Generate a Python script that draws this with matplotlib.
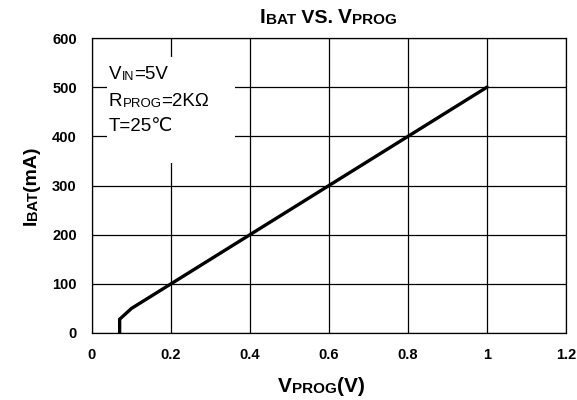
#!/usr/bin/python3
import matplotlib
matplotlib.use('Agg')
import matplotlib.pyplot as plt
from matplotlib.patches import Rectangle

# charge current vs PROG pin voltage
vprog = [0.07, 0.07, 0.1, 0.2, 0.4, 0.6, 0.8, 1.0]
ibat = [0, 28, 50, 100, 200, 300, 400, 500]

x_ticks = [0, 0.2, 0.4, 0.6, 0.8, 1, 1.2]
x_tick_labels = ['0', '0.2', '0.4', '0.6', '0.8', '1', '1.2']
y_ticks = [0, 100, 200, 300, 400, 500, 600]

FONT = ['Liberation Sans', 'DejaVu Sans']
W, H = 577, 400


def small_caps(fig, x, y, parts, rotation=0, weight='bold'):
    '''
    draw a row of (text, size) pieces, one after another, starting at pixel (x, y)
    '''
    prev = None
    for txt, size in parts:
        if prev is None:
            if rotation:
                prev = fig.text(x / W, 1 - y / H, txt, fontsize=size, family=FONT,
                                weight=weight, rotation=90, ha='right', va='bottom')
            else:
                prev = fig.text(x / W, 1 - y / H, txt, fontsize=size, family=FONT,
                                weight=weight, ha='left', va='bottom')
        else:
            if rotation:
                prev = fig.axes[0].annotate(txt, xy=(1, 1), xycoords=prev, fontsize=size,
                                            family=FONT, weight=weight, rotation=90,
                                            ha='right', va='bottom', annotation_clip=False)
            else:
                prev = fig.axes[0].annotate(txt, xy=(1, 0), xycoords=prev, fontsize=size,
                                            family=FONT, weight=weight,
                                            ha='left', va='bottom', annotation_clip=False)
    return prev


fig = plt.figure(figsize=(W / 100, H / 100), dpi=100)
ax = fig.add_axes([92 / W, 1 - 333 / H, (566 - 92) / W, (333 - 38) / H])

ax.plot(vprog, ibat, color='black', lw=2.4, solid_joinstyle='miter', zorder=4)

ax.set_xlim(0, 1.2)
ax.set_ylim(0, 600)
ax.set_xticks(x_ticks)
ax.set_xticklabels(x_tick_labels)
ax.set_yticks(y_ticks)
ax.tick_params(length=0, pad=11, labelsize=10.5)
for lab in ax.get_xticklabels() + ax.get_yticklabels():
    lab.set_family(FONT)
    lab.set_weight('bold')
ax.grid(True, color='black', lw=0.9)
ax.set_axisbelow(True)
for s in ax.spines.values():
    s.set_linewidth(0.9)

# white box behind the conditions text
ax.add_patch(Rectangle((0.038, 345), 0.324, 217, facecolor='white',
                       edgecolor='none', zorder=2))

# title, axis labels (small caps done by hand)
small_caps(fig, 260, 27, [('I', 15), ('BAT', 11), (' VS. ', 14), ('V', 15), ('PROG', 11)])
small_caps(fig, 278, 396, [('V', 15), ('PROG', 11), ('(V)', 15)])
small_caps(fig, 40, 225, [('I', 14), ('BAT', 10.5), ('(mA)', 14)], rotation=90)

# test conditions
small_caps(fig, 109, 83, [('V', 13.5), ('IN', 9), ('=5V', 13.5)], weight='normal')
small_caps(fig, 109, 110, [('R', 13.5), ('PROG', 9.5), ('=2K\u03a9', 13.5)], weight='normal')
small_caps(fig, 109, 135, [('T=25\u2103', 13.5)], weight='normal')

plt.savefig('out.png', dpi=100)
plt.close()
